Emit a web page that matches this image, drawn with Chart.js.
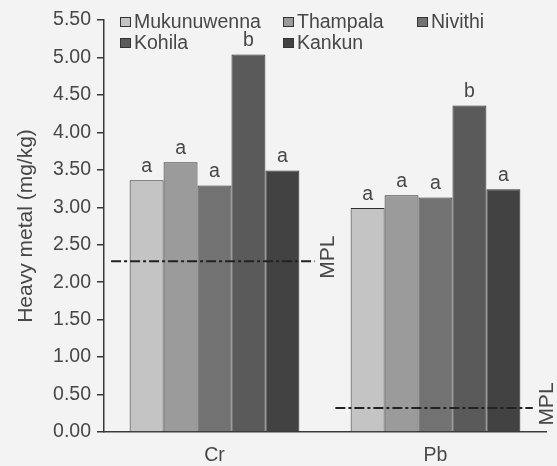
<!DOCTYPE html>
<html>
<head>
<meta charset="utf-8">
<script src="https://cdn.jsdelivr.net/npm/chart.js@4/dist/chart.umd.min.js"></script>
<style>
    html, body { margin: 0; padding: 0; background: #f3f3f3; }
    #wrap { width: 557px; height: 466px; position: relative; }
</style>
</head>
<body>
<div id="wrap"><canvas id="metalChart"></canvas></div>
<script>
// === DATA ===
const metals = ['Cr', 'Pb'];
const sites = ['Mukunuwenna', 'Thampala', 'Nivithi', 'Kohila', 'Kankun'];
const mukunuwenna = [3.36, 2.99];
const thampala = [3.60, 3.16];
const nivithi = [3.29, 3.13];
const kohila = [5.04, 4.36];
const kankun = [3.49, 3.24];
const lettersCr = ['a', 'a', 'a', 'b', 'a'];
const lettersPb = ['a', 'a', 'a', 'b', 'a'];
const mplValues = [2.28, 0.32];   // MPL for Cr, Pb
const yTicks = [0, 0.5, 1, 1.5, 2, 2.5, 3, 3.5, 4, 4.5, 5, 5.5];

const siteColors = ['#c4c4c4', '#9b9b9b', '#727272', '#5a5a5a', '#424242'];
const textCol = '#474747';
const FONT = "'Liberation Sans', Arial, sans-serif";

const seriesVals = [mukunuwenna, thampala, nivithi, kohila, kankun];
const letters = [lettersCr, lettersPb];

// === PLUGINS ===
const siteLegend = {
    id: 'siteLegend',
    afterDraw(chart) {
        const ctx = chart.ctx;
        const colX = [120, 283, 417];
        const rowY = [22, 43];
        ctx.save();
        ctx.font = '19.5px ' + FONT;
        ctx.textBaseline = 'middle';
        ctx.textAlign = 'left';
        sites.forEach((s, i) => {
            const x = colX[i % 3], y = rowY[Math.floor(i / 3)];
            ctx.fillStyle = siteColors[i];
            ctx.fillRect(x, y - 5, 11, 10);
            ctx.strokeStyle = '#333';
            ctx.lineWidth = 1;
            ctx.strokeRect(x + 0.5, y - 4.5, 10, 9);
            ctx.fillStyle = textCol;
            ctx.fillText(s, x + 14, y + 1);
        });
        ctx.restore();
    }
};

// significance letters above bars + MPL dash-dot lines
const barLetters = {
    id: 'barLetters',
    afterDatasetsDraw(chart) {
        const ctx = chart.ctx;
        const xs = chart.scales.x, ys = chart.scales.y;
        ctx.save();
        ctx.font = '19.5px ' + FONT;
        ctx.fillStyle = textCol;
        ctx.textAlign = 'center';
        ctx.textBaseline = 'bottom';
        sites.forEach((s, i) => {
            chart.getDatasetMeta(i).data.forEach((el, j) => {
                ctx.fillText(letters[j][i], el.x, el.y - 4);
            });
        });

        const catW = (xs.right - xs.left) / metals.length;
        const from = [-0.468, -0.453], to = [0.453, 0.44];
        mplValues.forEach((v, c) => {
            const cx = xs.getPixelForValue(c);
            const y = ys.getPixelForValue(v);
            const x0 = cx + from[c] * catW, x1 = cx + to[c] * catW;
            ctx.strokeStyle = '#222';
            ctx.lineWidth = 2;
            ctx.setLineDash([10, 3, 3, 3]);
            ctx.beginPath();
            ctx.moveTo(x0, y);
            ctx.lineTo(x1, y);
            ctx.stroke();
            ctx.setLineDash([]);
            ctx.save();
            ctx.font = '21px ' + FONT;
            ctx.textBaseline = 'middle';
            ctx.translate(x1 + 14, y - 4);
            ctx.rotate(-Math.PI / 2);
            ctx.fillText('MPL', 0, 0);
            ctx.restore();
        });
        ctx.restore();
    }
};

// === CHART ===
new Chart(document.getElementById('metalChart'), {
    type: 'bar',
    data: {
        labels: metals,
        datasets: sites.map((s, i) => ({
            label: s,
            data: seriesVals[i],
            backgroundColor: siteColors[i],
            borderColor: '#2e2e2e',
            borderWidth: 1,
            barPercentage: 1,
            categoryPercentage: 0.768
        }))
    },
    options: {
        responsive: true,
        maintainAspectRatio: false,
        animation: false,
        layout: { padding: { left: 0, right: 11, top: 20, bottom: 0 } },
        plugins: { legend: { display: false }, tooltip: { enabled: false } },
        scales: {
            x: {
                grid: { display: false },
                border: { display: true, color: '#3a3a3a', width: 1.5 },
                ticks: { color: textCol, font: { family: FONT, size: 19.5 }, padding: 4 },
                afterFit(s) { s.height = 34; }
            },
            y: {
                min: 0,
                max: 5.5,
                afterBuildTicks(s) { s.ticks = yTicks.map(v => ({ value: v })); },
                ticks: {
                    color: textCol,
                    font: { family: FONT, size: 19.5 },
                    padding: 6,
                    callback: v => v.toFixed(2)
                },
                grid: { display: true, drawOnChartArea: false, drawTicks: true, tickLength: 7, color: '#3a3a3a', lineWidth: 1.5 },
                border: { display: true, color: '#3a3a3a', width: 1.5 },
                title: {
                    display: true,
                    text: 'Heavy metal (mg/kg)',
                    color: textCol,
                    font: { family: FONT, size: 21 },
                    padding: { top: 14, bottom: 0 }
                },
                afterFit(s) { s.width = 104; }
            }
        }
    },
    plugins: [siteLegend, barLetters]
});
</script>
</body>
</html>
